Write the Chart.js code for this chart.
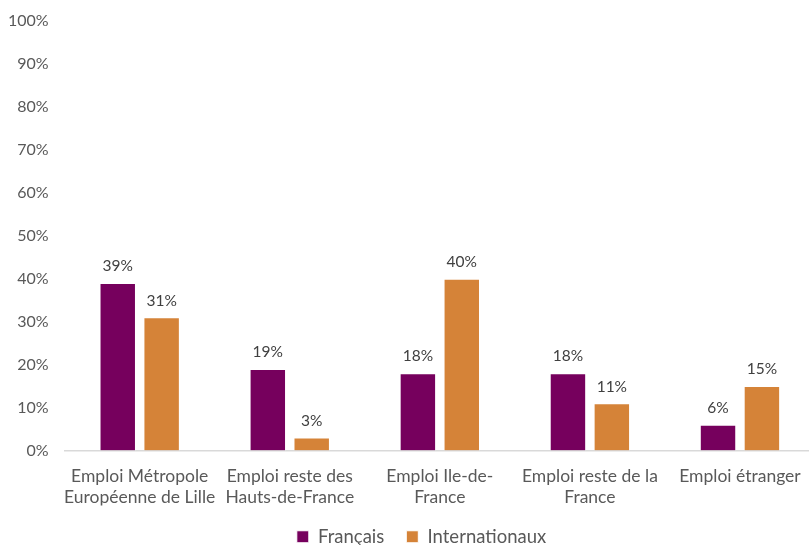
<!DOCTYPE html>
<html>
<head>
    <script src="https://cdn.jsdelivr.net/npm/chart.js@4/dist/chart.umd.min.js"></script>
    <style>
        html, body { margin: 0; padding: 0; background: #fff; overflow: hidden; }
    </style>
</head>
<body>
    <div>
        <!-- un peu plus large que la fenêtre : l'axe X d'origine déborde à droite -->
        <canvas id="myChart" width="815" height="545"></canvas>
    </div>
</body>
<script>
    const categories = [
        ['Emploi Métropole', 'Européenne de Lille'],
        ['Emploi reste des', 'Hauts-de-France'],
        ['Emploi Ile-de-', 'France'],
        ['Emploi reste de la', 'France'],
        'Emploi étranger'
    ]
    const francais = [39, 19, 18, 18, 6]
    const internationaux = [31, 3, 40, 11, 15]
    const yTicks = [0, 10, 20, 30, 40, 50, 60, 70, 80, 90, 100]

    const fontFamily = 'Lato, "Open Sans", sans-serif'
    const textColor = '#595959'

    // étiquettes de valeur au-dessus des barres
    const valueLabels = {
        id: 'valueLabels',
        afterDatasetsDraw(chart) {
            const ctx = chart.ctx
            ctx.save()
            ctx.font = '15.5px ' + fontFamily
            ctx.fillStyle = '#404040'
            ctx.textAlign = 'center'
            ctx.textBaseline = 'bottom'
            chart.data.datasets.forEach((ds, i) => {
                chart.getDatasetMeta(i).data.forEach((bar, j) => {
                    ctx.fillText(ds.data[j] + '%', bar.x, bar.y - 9)
                })
            })
            ctx.restore()
        }
    }

    // décale un peu la légende vers la droite, comme dans l'original
    const legendShift = {
        id: 'legendShift',
        afterLayout(chart) {
            chart.legend.left += 18
            chart.legend.right += 18
        }
    }

    const data = {
        labels: categories,
        datasets: [{
            label: 'Français',
            data: francais,
            backgroundColor: '#76005d',
            borderColor: '#ffffff',
            borderWidth: 1
        }, {
            label: 'Internationaux',
            data: internationaux,
            backgroundColor: '#d58338',
            borderColor: '#ffffff',
            borderWidth: 1
        }]
    }

    const config = {
        type: 'bar',
        data: data,
        options: {
            responsive: false,
            animation: false,
            layout: { padding: { left: -8, right: 0, top: 21, bottom: -11 } },
            datasets: {
                bar: { categoryPercentage: 0.585, barPercentage: 0.83 }
            },
            scales: {
                x: {
                    grid: { display: false, drawTicks: false },
                    border: { display: true, color: '#d9d9d9', width: 1.5 },
                    ticks: {
                        color: textColor,
                        font: { family: fontFamily, size: 17.5, lineHeight: 1.2 },
                        padding: 15.5,
                        maxRotation: 0,
                        autoSkip: false
                    },
                    // les étiquettes débordent comme dans Excel
                    afterFit: (axis) => {
                        axis.paddingLeft = 0
                        axis.paddingRight = 0
                        axis.height = 55
                    }
                },
                y: {
                    min: 0,
                    max: 100,
                    afterBuildTicks: (axis) => { axis.ticks = yTicks.map(v => ({ value: v })) },
                    afterFit: (axis) => { axis.paddingTop = 0; axis.paddingBottom = 0 },
                    grid: { display: false, drawTicks: false },
                    border: { display: false },
                    ticks: {
                        color: textColor,
                        font: { family: fontFamily, size: 16 },
                        padding: 16,
                        callback: (v) => v + '%'
                    }
                }
            },
            plugins: {
                legend: {
                    position: 'bottom',
                    labels: {
                        color: textColor,
                        font: { family: fontFamily, size: 18.5 },
                        boxWidth: 12,
                        boxHeight: 12,
                        padding: 22
                    }
                },
                tooltip: { enabled: false }
            }
        },
        plugins: [valueLabels, legendShift]
    }

    const myChart = new Chart(document.getElementById('myChart'), config)
</script>
</html>
